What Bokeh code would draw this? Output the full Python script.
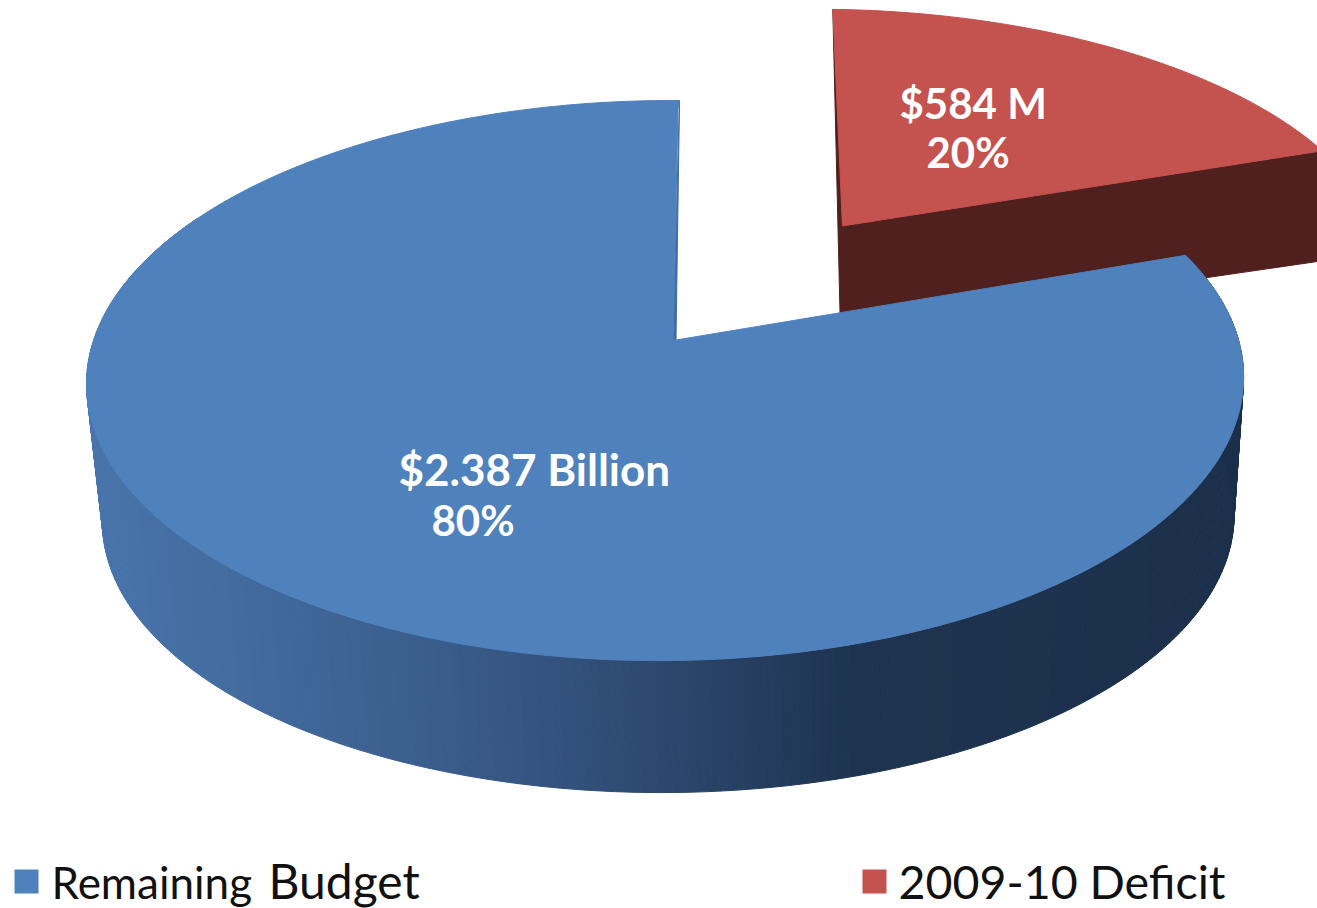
import numpy as np
from bokeh.plotting import figure
from bokeh.models import Range1d
from bokeh.core.properties import value
from bokeh.embed import file_html
from bokeh.resources import INLINE

# --- data
categories = ["Remaining Budget", "2009-10 Deficit"]
amounts_musd = [2387, 584]
label_line1 = ["$2.387 Billion", "$584 M"]
label_line2 = ["80%", "20%"]

# --- style and layout
BLUE, RED, BROWN, SLIVER = "#4F81BD", "#C4524F", "#4F201D", "#3F6DA3"
FONT = value("Lato")
W, H = 1317, 908
APEX_X, APEX_Y = 674.0, 340.0
A, B, K, M, SHEAR = 572.4, 274.3, 0.143, 0.0147, 5.7
EXPLODE = (0.309, 0.446)
RED_R = 1.02
RED_TILT = 0.012
WALL_DZ, WALL_S, WALL_CX, WALL_SHIFT = 139.0, 0.978, 672.0, 3.0
RED_WALL_APEX, RED_WALL_END = 105.0, 110.0
# side-wall shading, by screen x
RAMP_X = [90, 300, 500, 700, 850, 1250]
RAMP_R = [0x49, 0x40, 0x37, 0x2A, 0x1E, 0x1C]
RAMP_G = [0x75, 0x67, 0x58, 0x44, 0x34, 0x30]
RAMP_B = [0xAB, 0x99, 0x85, 0x69, 0x50, 0x4B]


def project(X, Y):
    d = 1 + K * Y + M * X
    return APEX_X + (A * X + SHEAR * Y) / d, APEX_Y - B * Y / d


total = sum(amounts_musd)
red_angle = 2 * np.pi * amounts_musd[1] / total  # clockwise from 12 o'clock

p = figure(width=W, height=H, output_backend="svg", toolbar_location=None,
           x_range=Range1d(0, W), y_range=Range1d(H, 0),
           min_border=0, outline_line_color=None, background_fill_color="white",
           border_fill_color="white")
p.axis.visible = False
p.grid.visible = False

# --- deficit slice, exploded backwards: wall, then top
t_red = np.linspace(RED_TILT, red_angle, 90)
rx, ry = project(EXPLODE[0] + RED_R * np.sin(t_red), EXPLODE[1] + RED_R * np.cos(t_red))
ax, ay = project(*EXPLODE)
p.patch([rx[0], ax - 2, rx[-1], rx[-1]],
        [ry[0], ay + RED_WALL_APEX, ry[-1] + RED_WALL_END, ry[-1]],
        color=BROWN)
p.patch(np.r_[ax, rx], np.r_[ay, ry], color=RED)

# --- remaining slice: wall strips, cut-edge sliver, then top
t_blue = np.linspace(red_angle, 2 * np.pi, 420)
tx, ty = project(np.sin(t_blue), np.cos(t_blue))
bx = WALL_CX + WALL_S * (tx - WALL_CX) + WALL_SHIFT
by = APEX_Y + WALL_DZ + WALL_S * (ty - APEX_Y)
xs, ys, cols = [], [], []
for i in range(len(t_blue) - 1):
    if ty[i] > APEX_Y + 120 or ty[i + 1] > APEX_Y + 120 or abs(tx[i] - APEX_X) > 480:
        xs.append([tx[i], tx[i + 1], bx[i + 1], bx[i]])
        ys.append([ty[i], ty[i + 1], by[i + 1], by[i]])
        m = (tx[i] + tx[i + 1]) / 2
        r, g, b = (int(np.interp(m, RAMP_X, c)) for c in (RAMP_R, RAMP_G, RAMP_B))
        cols.append(f"#{r:02x}{g:02x}{b:02x}")
p.patches(xs, ys, fill_color=cols, line_color=cols, line_width=1)
p.patch([tx[-1], APEX_X + 1.5, APEX_X - 1.5], [ty[-1], APEX_Y, APEX_Y], color=SLIVER)
p.patch(np.r_[APEX_X - 1.5, tx, tx[-1] - 1.5], np.r_[APEX_Y, ty, ty[-1] + 8], color=BLUE)

# --- value labels
p.text([398], [468], text=[label_line1[0]], text_color="white", text_font=FONT,
       text_font_style="bold", text_font_size="44px", text_baseline="alphabetic")
p.text([899], [102], text=[label_line1[1]], text_color="white", text_font=FONT,
       text_font_style="bold", text_font_size="42px", text_baseline="alphabetic")
p.text([431, 926], [519, 151], text=label_line2, text_color="white", text_font=FONT,
       text_font_style="bold", text_font_size="42px", text_baseline="alphabetic")

# --- legend
p.scatter([26, 874], [881, 881], marker="square", size=24, fill_color=[BLUE, RED], line_color=None)
first, second = categories[0].split(" ")
p.text([51], [881], text=[first], text_color="#111111", text_font=FONT,
       text_font_size="44px", text_baseline="alphabetic")
p.text([268], [880], text=[second], text_color="#111111",
       text_font=FONT, text_font_size="48px", text_baseline="alphabetic")
p.text([898], [880], text=[categories[1]], text_color="#111111",
       text_font=FONT, text_font_size="46.5px", text_baseline="alphabetic")

open("out.html", "w").write(file_html(p, INLINE))
